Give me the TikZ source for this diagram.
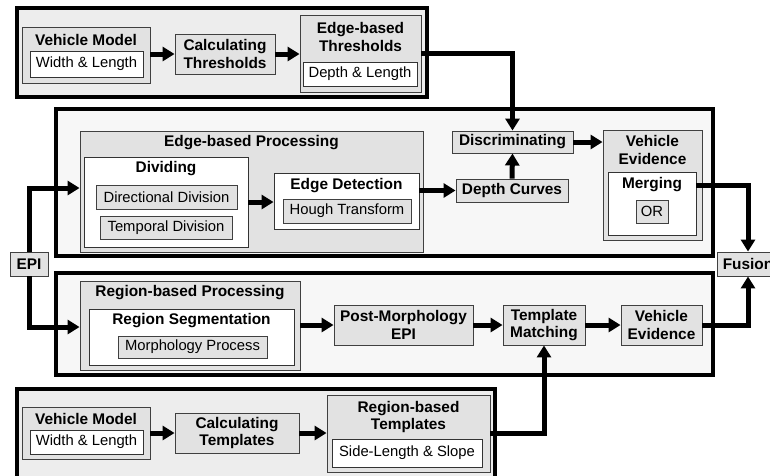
\documentclass[tikz,border=0pt]{standalone}
\usepackage{fontspec}
\setmainfont{Liberation Sans}
\usetikzlibrary{arrows.meta}
\definecolor{framegray}{HTML}{EDEDED}
\definecolor{framelight}{HTML}{F7F7F7}
\definecolor{boxgray}{HTML}{E2E2E2}
\begin{document}
\begin{tikzpicture}[x=1pt,y=-1pt,
  frame/.style={draw=black, line width=3.5pt, inner sep=0pt},
  gbox/.style={draw=black!75, line width=0.9pt, fill=boxgray, inner sep=0pt, align=center},
  wbox/.style={draw=black!80, line width=0.9pt, fill=white, inner sep=0pt, align=center},
  btext/.style={font=\fontsize{15.4}{17.5}\selectfont\bfseries},
  rtext/.style={font=\fontsize{14.8}{17}\selectfont},
  ttl/.style={inner sep=0pt, align=center, font=\fontsize{15.4}{17.5}\selectfont\bfseries},
  conn/.style={line width=5pt, -{Triangle[length=12pt,width=14pt]}},
  wire/.style={line width=5pt}
]
\useasboundingbox (0,0) rectangle (770,475);

% ---- outer frames ----
\node[frame, fill=framegray, minimum width=410, minimum height=89] (topF) at (222,52.5) {};
\node[frame, fill=framelight, minimum width=657, minimum height=147] (midF) at (384.5,182.5) {};
\node[frame, fill=framelight, minimum width=657, minimum height=102] (lowF) at (384.5,324) {};
\node[frame, fill=framegray, minimum width=478, minimum height=101] (botF) at (256,439.5) {};

% ---- threshold computation (top) ----
\node[gbox, minimum width=128, minimum height=56] (VM1) at (86,55) {};
\node[ttl] (VM1t) at (86,40) {Vehicle Model};
\node[wbox, rtext, minimum width=113, minimum height=26] (WL1) at (86.5,64) {Width \& Length};
\node[gbox, btext, minimum width=100, minimum height=40] (CT1) at (225,54) {Calculating\\Thresholds};
\node[gbox, minimum width=121, minimum height=77] (ET1) at (360.5,53.5) {};
\node[ttl] (ET1t) at (360.5,37) {Edge-based\\Thresholds};
\node[wbox, rtext, minimum width=114, minimum height=24] (DL) at (360,74) {Depth \& Length};

% ---- edge-based branch ----
\node[gbox, minimum width=343, minimum height=121] (EBP) at (251.5,191.5) {};
\node[ttl] (EBPt) at (251.5,143) {Edge-based Processing};
\node[wbox, minimum width=164, minimum height=90] (DIV) at (166,202) {};
\node[ttl] (DIVt) at (166,169) {Dividing};
\node[gbox, rtext, minimum width=141, minimum height=24] (DD) at (166.5,197) {Directional Division};
\node[gbox, rtext, minimum width=132, minimum height=23] (TD) at (166,227.5) {Temporal Division};
\node[wbox, minimum width=145, minimum height=56] (ED) at (346.5,201) {};
\node[ttl] (EDt) at (346.5,186) {Edge Detection};
\node[gbox, rtext, minimum width=128, minimum height=24] (HT) at (347,211) {Hough Transform};
\node[gbox, btext, minimum width=112, minimum height=23] (DC) at (512,190.5) {Depth Curves};
\node[gbox, btext, minimum width=121, minimum height=22] (DIS) at (512.5,142) {Discriminating};
\node[gbox, minimum width=99, minimum height=110] (VE1) at (652.5,185) {};
\node[ttl] (VE1t) at (652.5,150) {Vehicle\\Evidence};
\node[wbox, minimum width=88, minimum height=63] (MER) at (652,203.5) {};
\node[ttl] (MERt) at (652,185) {Merging};
\node[gbox, rtext, minimum width=32, minimum height=23] (OR) at (652,211.5) {OR};

% ---- input and output ----
\node[gbox, btext, minimum width=38, minimum height=24] (EPI) at (29,264) {EPI};
\node[gbox, btext, minimum width=62, minimum height=24] (FUS) at (748,264) {Fusion};

% ---- region-based branch ----
\node[gbox, minimum width=220, minimum height=89] (RBP) at (190,325.5) {};
\node[ttl] (RBPt) at (190,293) {Region-based Processing};
\node[wbox, minimum width=205, minimum height=56] (RS) at (191.5,337) {};
\node[ttl] (RSt) at (191.5,321) {Region Segmentation};
\node[gbox, rtext, minimum width=149, minimum height=22] (MP) at (192.5,347) {Morphology Process};
\node[gbox, btext, minimum width=139, minimum height=40] (PM) at (403.5,325) {Post-Morphology\\EPI};
\node[gbox, btext, minimum width=82, minimum height=40] (TM) at (544,325) {Template\\Matching};
\node[gbox, btext, minimum width=81, minimum height=40] (VE2) at (661.5,325) {Vehicle\\Evidence};

% ---- template computation (bottom) ----
\node[gbox, minimum width=128, minimum height=52] (VM2) at (86,433) {};
\node[ttl] (VM2t) at (86,419) {Vehicle Model};
\node[wbox, rtext, minimum width=113, minimum height=24] (WL2) at (86.5,442) {Width \& Length};
\node[gbox, btext, minimum width=124, minimum height=40] (CT2) at (237,433) {Calculating\\Templates};
\node[gbox, minimum width=163, minimum height=77] (RT) at (408.5,433.5) {};
\node[ttl] (RTt) at (408.5,417) {Region-based\\Templates};
\node[wbox, rtext, minimum width=150, minimum height=28] (SL) at (407,453) {Side-Length \& Slope};

% ---- connectors ----
\draw[conn] (VM1.east |- CT1.west) -- (CT1.west);
\draw[conn] (CT1.east) -- (CT1.east -| ET1.west);
\draw[conn] (ET1.east) -| (DIS.north);
\draw[conn] (EPI.north) |- ([yshift=3.5pt]EBP.west);
\draw[conn] (EPI.south) |- ([yshift=-1.5pt]RBP.west);
\draw[conn] (DIV.east) -- (DIV.east -| ED.west);
\draw[conn] (ED.east |- DC.west) -- (DC.west);
\draw[conn] (DC.north) -- (DIS.south);
\draw[conn] (DIS.east) -- (DIS.east -| VE1.west);
\draw[conn] (MER.east |- MERt) -| (FUS.north);
\draw[conn] (RBP.east |- PM.west) -- (PM.west);
\draw[conn] (PM.east) -- (TM.west);
\draw[conn] (TM.east) -- (VE2.west);
\draw[conn] (VE2.east) -| (FUS.south);
\draw[conn] (VM2.east |- CT2.west) -- (CT2.west);
\draw[conn] (CT2.east) -- (CT2.east -| RT.west);
\draw[conn] (RT.east) -| (TM.south);
\end{tikzpicture}
\end{document}
